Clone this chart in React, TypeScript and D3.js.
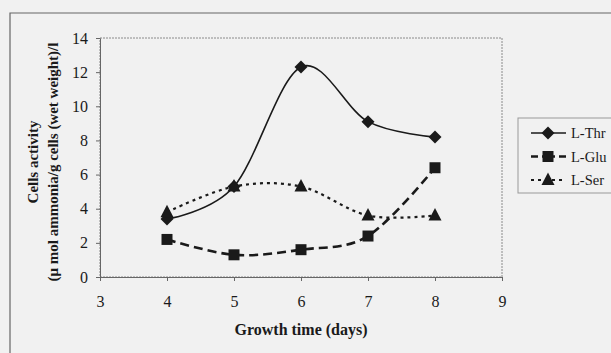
import { useRef, useEffect } from 'react';
import * as d3 from 'd3';

const days = [4, 5, 6, 7, 8];
const thrValues = [3.4, 5.3, 12.3, 9.1, 8.2];
const gluValues = [2.2, 1.3, 1.6, 2.4, 6.4];
const serValues = [3.8, 5.3, 5.3, 3.6, 3.6];
const xTicks = [3, 4, 5, 6, 7, 8, 9];
const yTicks = [0, 2, 4, 6, 8, 10, 12, 14];

const series = [
  { name: 'L-Thr', values: thrValues, marker: 'diamond', dash: null, width: 1.6 },
  { name: 'L-Glu', values: gluValues, marker: 'square', dash: '9,5', width: 2.6 },
  { name: 'L-Ser', values: serValues, marker: 'triangle', dash: '3,4', width: 2.2 },
];

const App = () => {
  const svgRef = useRef<SVGSVGElement>(null);

  useEffect(() => {
    const svg = d3.select(svgRef.current);
    svg.selectAll('*').remove();
    const width = 611, height = 353;
    const margin = { top: 38, right: 109, bottom: 76, left: 100 };
    const font = '"Liberation Serif", "Times New Roman", serif';
    const ink = '#1a1a1a';

    svg.append('rect').attr('width', width).attr('height', height).attr('fill', '#f1f1f1');

    // scanned page frame
    svg.append('path')
      .attr('d', `M10,${height} V13 H${width}`)
      .attr('fill', 'none').attr('stroke', '#666').attr('stroke-width', 1.2);

    const x = d3.scaleLinear().domain([3, 9]).range([margin.left, width - margin.right]);
    const y = d3.scaleLinear().domain([0, 14]).range([height - margin.bottom, margin.top]);

    svg.append('rect')
      .attr('x', x(3)).attr('y', y(14))
      .attr('width', x(9) - x(3)).attr('height', y(0) - y(14))
      .attr('fill', 'none').attr('stroke', '#8a8a8a').attr('stroke-width', 1)
      .attr('stroke-dasharray', '2,1');

    const xAxis = svg.append('g')
      .attr('transform', `translate(0,${y(0)})`)
      .call(d3.axisBottom(x).tickValues(xTicks).tickSize(4).tickSizeOuter(0).tickPadding(15).tickFormat(d3.format('d')));
    const yAxis = svg.append('g')
      .attr('transform', `translate(${x(3)},0)`)
      .call(d3.axisLeft(y).tickValues(yTicks).tickSize(4).tickSizeOuter(0).tickPadding(8).tickFormat(d3.format('d')));

    [xAxis, yAxis].forEach(g => {
      g.select('.domain').attr('stroke', '#666');
      g.selectAll('.tick line').attr('stroke', '#666');
      g.selectAll('.tick text').attr('fill', ink).style('font-family', font).style('font-size', '16px');
    });

    const line = d3.line<number>()
      .x((d, i) => x(days[i]))
      .y(d => y(d))
      .curve(d3.curveCardinal.tension(0));

    const markerPath = (type: string) => {
      if (type === 'diamond') return 'M0,-6.5L6.5,0L0,6.5L-6.5,0Z';
      if (type === 'square') return 'M-5.5,-5.5H5.5V5.5H-5.5Z';
      return 'M0,-7.5L6.5,5H-6.5Z';
    };

    series.forEach(s => {
      svg.append('path')
        .attr('d', line(s.values))
        .attr('fill', 'none')
        .attr('stroke', ink)
        .attr('stroke-width', s.width)
        .attr('stroke-dasharray', s.dash);
      svg.append('g').selectAll('path')
        .data(s.values)
        .join('path')
        .attr('transform', (d, i) => `translate(${x(days[i])},${y(d)})`)
        .attr('d', markerPath(s.marker))
        .attr('fill', ink);
    });

    // legend
    const legend = svg.append('g').attr('transform', 'translate(518,118)');
    legend.append('rect')
      .attr('width', 110).attr('height', 75)
      .attr('fill', 'none').attr('stroke', '#999').attr('stroke-width', 1);
    series.forEach((s, i) => {
      const ly = 15 + i * 23.5;
      legend.append('line')
        .attr('x1', 13).attr('x2', 48).attr('y1', ly).attr('y2', ly)
        .attr('stroke', ink).attr('stroke-width', s.width)
        .attr('stroke-dasharray', s.name === 'L-Glu' ? '7,4,13,4' : s.dash);
      legend.append('path')
        .attr('transform', `translate(30,${ly})`)
        .attr('d', markerPath(s.marker))
        .attr('fill', ink);
      legend.append('text')
        .attr('x', 53).attr('y', ly).attr('dy', '0.35em')
        .attr('fill', ink)
        .style('font-family', font).style('font-size', '14.5px')
        .text(s.name);
    });

    svg.append('text')
      .attr('x', (x(3) + x(9)) / 2).attr('y', 335)
      .attr('text-anchor', 'middle').attr('fill', ink)
      .style('font-family', font).style('font-size', '16px').style('font-weight', 'bold')
      .text('Growth time (days)');

    const yTitle = svg.append('text')
      .attr('transform', 'translate(38,162) rotate(-90)')
      .attr('text-anchor', 'middle').attr('fill', ink)
      .style('font-family', font).style('font-size', '15px').style('font-weight', 'bold');
    yTitle.append('tspan').attr('x', 0).attr('dy', 0).text('Cells activity');
    yTitle.append('tspan').attr('x', 0).attr('dy', 20).text('(μ mol ammonia/g cells (wet weight)/l');
  }, []);

  return (
    <div style={{ position: 'fixed', left: 0, top: 0 }}>
      <svg ref={svgRef} width="611" height="353" style={{ display: 'block' }}></svg>
    </div>
  );
};

export default App;
